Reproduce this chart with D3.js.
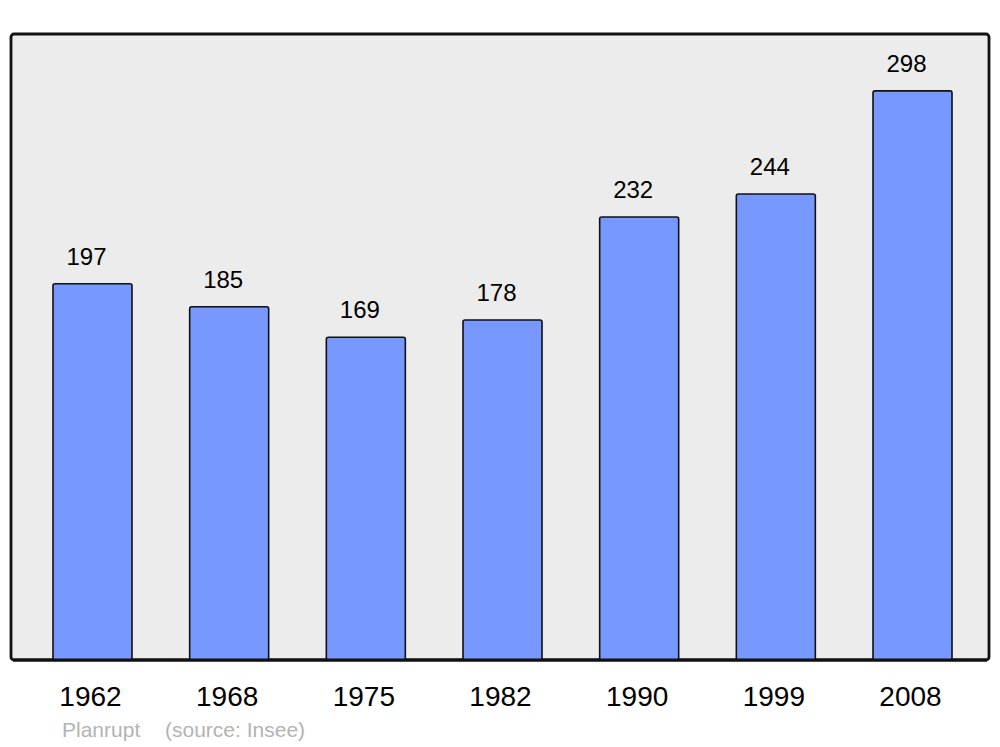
<!DOCTYPE html>
<html>
<head>
<meta charset="utf-8">
<script src="https://cdn.jsdelivr.net/npm/d3@7"></script>
<style>
  html, body { margin: 0; padding: 0; background: #ffffff; }
  svg { display: block; font-family: "Liberation Sans", Arial, sans-serif; }
</style>
</head>
<body>
<svg id="chart" width="1000" height="747"></svg>
<script>
const years = ["1962", "1968", "1975", "1982", "1990", "1999", "2008"];
const population = [197, 185, 169, 178, 232, 244, 298];
const commune = "Planrupt";
const source = "(source: Insee)";

const svg = d3.select("#chart");
const panel = { left: 11, top: 34, right: 989, bottom: 660 };

svg.append("rect")
  .attr("x", panel.left).attr("y", panel.top)
  .attr("width", panel.right - panel.left).attr("height", panel.bottom - panel.top)
  .attr("rx", 3).attr("ry", 3)
  .attr("fill", "#ececec").attr("stroke", "#111").attr("stroke-width", 2.8);

const x = d3.scaleBand().domain(years).range([53, 952]).paddingInner(0.422).paddingOuter(0);
const y = d3.scaleLinear().domain([0, d3.max(population) * 1.1]).range([panel.bottom, panel.top]);

const data = years.map((yr, i) => ({ year: yr, value: population[i] }));

svg.append("g").selectAll("rect").data(data).join("rect")
  .attr("x", d => x(d.year))
  .attr("y", d => y(d.value))
  .attr("width", x.bandwidth())
  .attr("height", d => y(0) - y(d.value))
  .attr("rx", 2).attr("ry", 2)
  .attr("fill", "#7799ff").attr("stroke", "#111").attr("stroke-width", 1.6);

// redraw bottom border over bars
svg.append("line")
  .attr("x1", panel.left + 2).attr("x2", panel.right - 2)
  .attr("y1", panel.bottom).attr("y2", panel.bottom)
  .attr("stroke", "#111").attr("stroke-width", 2.8);

svg.append("g").selectAll("text").data(data).join("text")
  .attr("x", d => x(d.year) + x.bandwidth() / 2 - 6)
  .attr("y", d => y(d.value) - 19)
  .attr("text-anchor", "middle")
  .attr("font-size", 24)
  .attr("fill", "#000")
  .text(d => d.value);

const xAxis = d3.axisBottom(x).tickSize(0).tickPadding(0);
const gx = svg.append("g").attr("transform", `translate(0,${panel.bottom})`).call(xAxis);
gx.select(".domain").remove();
gx.selectAll("text")
  .attr("dy", null)
  .attr("y", 46)
  .attr("x", -2)
  .attr("font-size", 28)
  .attr("font-family", "Liberation Sans, Arial, sans-serif")
  .attr("fill", "#000");

svg.append("text").attr("x", 62).attr("y", 737)
  .attr("font-size", 21).attr("fill", "#b3b3b3").text(commune);
svg.append("text").attr("x", 165).attr("y", 737)
  .attr("font-size", 21).attr("fill", "#b3b3b3").text(source);
</script>
</body>
</html>
